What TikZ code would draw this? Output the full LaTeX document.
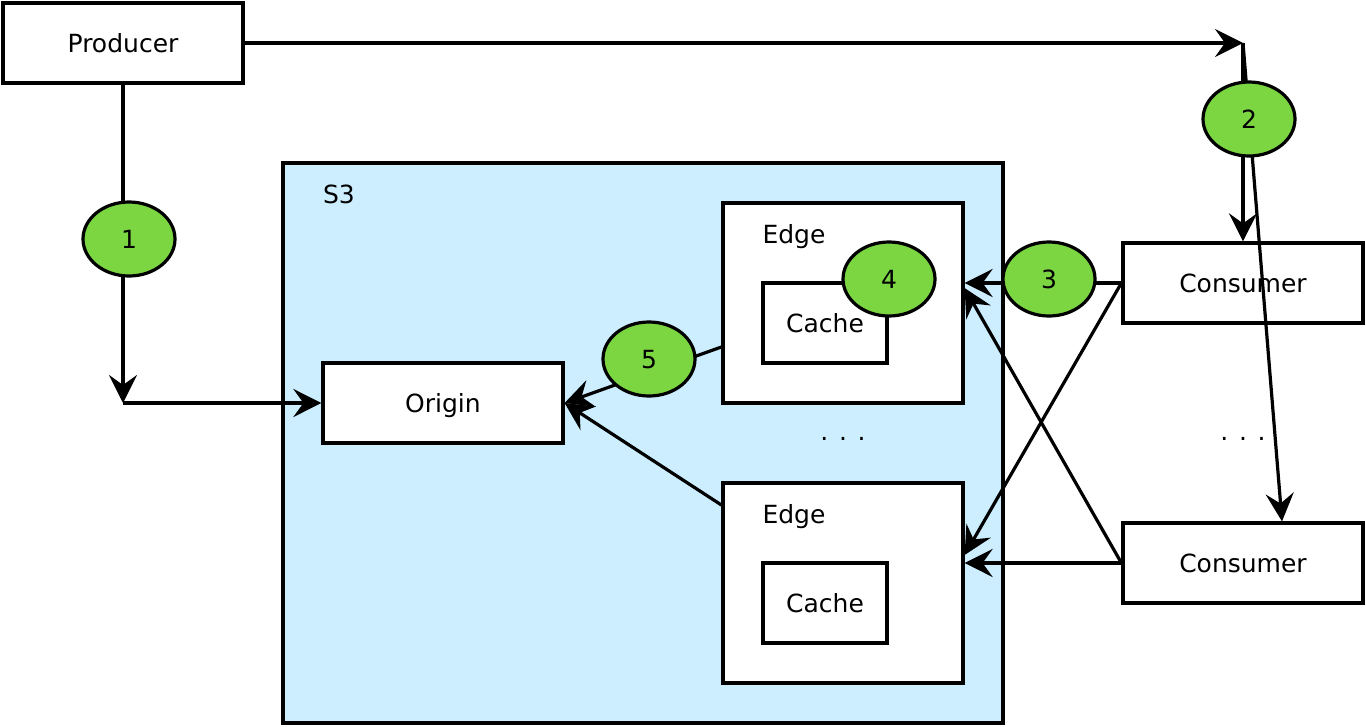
\documentclass[tikz,border=0pt]{standalone}
\usepackage{fontspec}
\setmainfont{DejaVu Sans}
\usetikzlibrary{shapes.geometric,arrows.meta}

\definecolor{stepgreen}{RGB}{123,214,66}
\definecolor{bucketblue}{RGB}{204,238,255}

\begin{document}
\begin{tikzpicture}[x=1pt,y=-1pt,
        every node/.style={font=\fontsize{25}{30}\selectfont, text height=18pt, text depth=0pt},
        box/.style={draw, line width=3.2pt, fill=white, minimum width=240pt, minimum height=80pt, inner sep=0pt},
        num/.style={ellipse, draw, line width=3.2pt, fill=stepgreen, minimum width=92pt, minimum height=74pt, inner sep=0pt},
        link/.style={line width=3.2pt, -{Stealth[length=28pt,width=28pt,inset=10pt]}}]
        \useasboundingbox (0,0) rectangle (1366,726);

        \node[box] (producer) at (123,43) {Producer};
        \node[box] (consumerA) at (1243,283) {Consumer};
        \node[box] (consumerB) at (1243,563) {Consumer};
        \node (dotsCons) at (1243,431) {. . .};

        \node[draw, line width=3.2pt, fill=bucketblue, minimum width=720pt, minimum height=560pt] (s3) at (643,443) {};
        \node (s3label) at (339,194) {S3};
        \node[box] (origin) at (443,403) {Origin};

        \node[box, minimum height=200pt] (edgeA) at (843,303) {};
        \node (edgeAlabel) at (794,234) {Edge};
        \node[box, minimum width=124pt] (cacheA) at (825,323) {Cache};
        \node[box, minimum height=200pt] (edgeB) at (843,583) {};
        \node (edgeBlabel) at (794,514) {Edge};
        \node[box, minimum width=124pt] (cacheB) at (825,603) {Cache};
        \node (dotsEdge) at (843,431) {. . .};

        \coordinate (turn) at (1243,43);
        \coordinate (split) at (123,403);

        \draw[link] (producer.east) -- (turn);
        \draw[link] (turn) -- (consumerA.north);
        \draw[link] (turn) -- ([xshift=39pt]consumerB.north);
        \draw[link] (producer.south) -- (split);
        \draw[link] (split) -- (origin.west);

        \draw[link] (consumerA.west) -- ([yshift=20pt]edgeA.east);
        \draw[link] (consumerA.west) -- ([yshift=28pt]edgeB.east);
        \draw[link] (consumerB.west) -- ([yshift=20pt]edgeB.east);
        \draw[link] (consumerB.west) -- ([yshift=15pt]edgeA.east);
        \draw[link] ([yshift=-44pt]edgeA.west) -- (origin.east);
        \draw[link] ([yshift=78pt]edgeB.west) -- (origin.east);

        \node[num] (stepA) at (129,239) {1};
        \node[num] (stepB) at (1249,119) {2};
        \node[num] (stepC) at (1049,279) {3};
        \node[num] (stepD) at (889,279) {4};
        \node[num] (stepE) at (649,359) {5};
    \end{tikzpicture}
\end{document}
